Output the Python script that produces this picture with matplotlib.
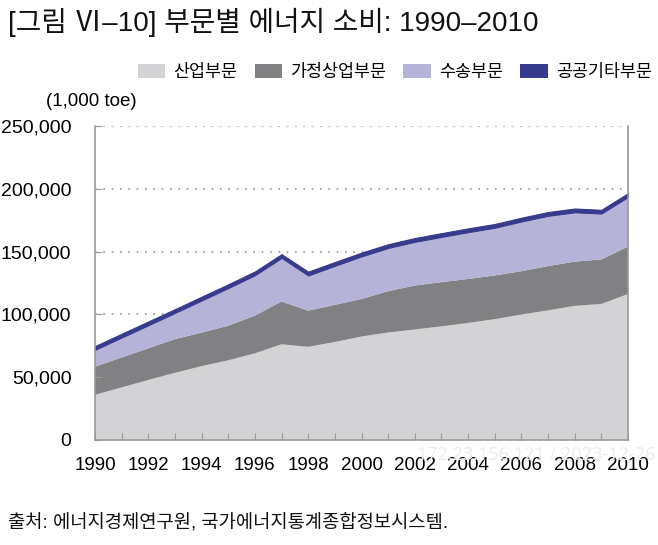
import numpy as np
import matplotlib as mpl
mpl.use('Agg')
import matplotlib.pyplot as plt
from matplotlib.patches import Patch

plt.rcParams['font.family'] = ['Liberation Sans', 'Noto Sans CJK KR', 'DejaVu Sans']

years = list(range(1990, 2011))

# 1,000 toe
industry = [36000, 41900, 47800, 53500, 58800, 63500, 69000, 76200, 74200, 78000,
            82400, 85600, 88000, 90500, 93200, 96200, 99900, 103200, 106800, 108300, 116200]
residential = [22400, 23800, 25200, 26800, 26700, 27500, 30000, 34100, 28800, 29600,
               29900, 32900, 35000, 35200, 35000, 34800, 34500, 35300, 35200, 35500, 37800]
transport = [13400, 15900, 18400, 20900, 25600, 30000, 32200, 34700, 28000, 31100,
             33900, 34400, 34800, 36000, 37300, 38000, 39600, 40000, 39300, 36500, 39500]
public = [3000, 3000, 3000, 3000, 3000, 3000, 3000, 3000, 3000, 3000,
          3000, 3000, 3000, 3000, 3000, 3000, 3000, 3000, 3000, 3000, 3000]

labels = ['산업부문', '가정상업부문', '수송부문', '공공기타부문']
colors = ['#d3d3d5', '#818184', '#b5b3d7', '#363b8d']

fig = plt.figure(figsize=(6.58, 5.45), dpi=100)
ax = fig.add_axes([95/658, 1-440/545, (628-95)/658, (440-126)/545])

polys = ax.stackplot(years, industry, residential, transport, public,
                     colors=colors, linewidth=0)
polys[3].set_edgecolor(colors[3])
polys[3].set_linewidth(0.8)

ax.set_xlim(1990, 2010)
ax.set_ylim(0, 250000)
ax.set_xticks(years)
ax.set_xticklabels([str(y) if y % 2 == 0 else '' for y in years])
ax.set_yticks(np.arange(0, 250001, 50000))
ax.set_yticklabels(['0', '50,000', '100,000', '150,000', '200,000', '250,000'])

for yv in np.arange(50000, 250001, 50000):
    ax.axhline(yv, color='#9a9a9a', linestyle=(0, (1, 4)), linewidth=1.2, zorder=0.5)

ax.tick_params(axis='x', direction='in', length=5, color='#9a9a9a', labelsize=13.5, pad=12)
ax.tick_params(axis='y', direction='in', length=5, color='#9a9a9a', labelsize=14, pad=17)
for s in ['left', 'bottom', 'right']:
    ax.spines[s].set_color('#9a9a9a')
    ax.spines[s].set_linewidth(1.2)
ax.spines['top'].set_visible(False)
ax.set_axisbelow(False)

fig.text(8/658, 1-22/545, '[그림 Ⅵ–10] 부문별 에너지 소비: 1990–2010', fontsize=20,
         va='center', ha='left', color='#111111', fontweight='medium')
fig.text(46/658, 1-101/545, '(1,000 toe)', fontsize=13.5, va='center', ha='left')
fig.text(8/658, 1-522/545, '출처: 에너지경제연구원, 국가에너지통계종합정보시스템.', fontsize=13.5,
         va='center', ha='left', color='#111111')
fig.text(655/658, 1-455/545, '172.23.156.121 / 2023-12-26', fontsize=13, color='#ececf0',
         va='center', ha='right', family=['Noto Sans', 'DejaVu Sans'], zorder=0)

handles = [Patch(facecolor=c, edgecolor='none') for c in colors]
fig.legend(handles, labels, loc='center right', bbox_to_anchor=(652/658, 1-72/545),
           ncol=4, frameon=False, fontsize=12.5, handlelength=1.6, handleheight=0.9,
           handletextpad=0.45, columnspacing=1.0, borderaxespad=0, borderpad=0)

fig.savefig('out.png', dpi=100)
